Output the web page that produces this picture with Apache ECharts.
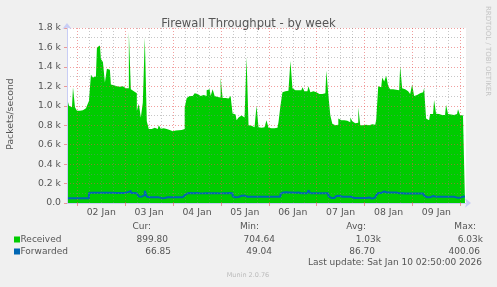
<!DOCTYPE html>
<html><head><meta charset="utf-8">
<script src="https://cdn.jsdelivr.net/npm/echarts@6/dist/echarts.min.js"></script>
<style>html,body{margin:0;padding:0;background:#f0f0f0}#c{width:497px;height:287px}</style>
</head><body><div id="c"></div>
<script>
// ---- data ----
const chartTitle = 'Firewall Throughput - by week';
const yAxisName = 'Packets/second';
const xMin = 18.833;              // hours after 01 Jan 00:00 (window start)
const xMax = 218.833;             // window end (10 Jan 02:50)
const firstSampleHour = 19.333;   // hourly samples
const dayLabels = ['02 Jan', '03 Jan', '04 Jan', '05 Jan', '06 Jan', '07 Jan', '08 Jan', '09 Jan'];
const dayLabelHours = [36, 60, 84, 108, 132, 156, 180, 204];
const midnightHours = [24, 48, 72, 96, 120, 144, 168, 192, 216];
const yMax = 1800;
const yStep = 200;

const received = [
  1040, 1000, 985, 1190, 985, 950, 950, 955, 960, 975,
  1000, 1050, 1320, 1290, 1300, 1600, 1620, 1480, 1450, 1240,
  1380, 1370, 1220, 1210, 1200, 1195, 1195, 1200, 1185, 1180,
  1180, 1760, 1170, 1150, 1130, 950, 1020, 880, 1030, 1700,
  840, 760, 760, 775, 765, 760, 800, 765, 770, 760,
  755, 750, 738, 735, 745, 748, 745, 750, 760, 980,
  1080, 1100, 1100, 1110, 1130, 1120, 1100, 1100, 1110, 1100,
  1160, 1170, 1100, 1170, 1100, 1090, 1085, 1290, 1080, 1080,
  1075, 1090, 1100, 920, 910, 850, 880, 900, 880, 870,
  1500, 800, 795, 780, 790, 1000, 780, 775, 780, 775,
  850, 775, 770, 770, 772, 775, 830, 1000, 1140, 1150,
  1155, 1150, 1460, 1180, 1160, 1160, 1175, 1160, 1190, 1150,
  1150, 1200, 1140, 1150, 1140, 1125, 1120, 1120, 1125, 1130,
  1360, 1110, 900, 815, 800, 805, 870, 850, 850, 830,
  845, 830, 880, 840, 820, 825, 985, 800, 800, 805,
  800, 800, 810, 815, 805, 860, 1200, 1190, 1290, 1250,
  1310, 1200, 1170, 1170, 1165, 1160, 1160, 1410, 1180, 1170,
  1150, 1150, 1120, 1220, 1100, 1110, 1130, 1130, 1140, 1180,
  870, 850, 915, 915, 1060, 918, 915, 905, 905, 905,
  1010, 915, 910, 905, 905, 915, 965, 905, 900, 900
];
const forwarded = [
  48, 48, 48, 48, 48, 48, 48, 48, 48, 48,
  48, 103, 105, 106, 107, 106, 105, 107, 105, 106,
  104, 105, 106, 105, 104, 103, 104, 103, 104, 105,
  110, 125, 103, 102, 100, 85, 67, 65, 80, 125,
  65, 60, 60, 58, 58, 58, 58, 50, 52, 58,
  60, 60, 60, 58, 58, 60, 60, 58, 60, 80,
  100, 102, 100, 101, 103, 100, 100, 99, 100, 101,
  100, 102, 100, 100, 101, 100, 99, 100, 101, 100,
  102, 103, 100, 70, 58, 62, 65, 75, 76, 72,
  64, 64, 63, 64, 64, 65, 64, 64, 63, 64,
  64, 64, 64, 64, 64, 64, 64, 95, 108, 110,
  125, 108, 107, 108, 106, 107, 105, 100, 100, 101,
  100, 130, 100, 100, 100, 100, 100, 100, 100, 100,
  100, 70, 52, 51, 51, 72, 75, 64, 64, 64,
  64, 64, 64, 52, 52, 52, 52, 52, 52, 52,
  56, 57, 45, 46, 57, 80, 103, 104, 118, 118,
  108, 108, 108, 108, 108, 108, 100, 100, 97, 97,
  97, 97, 97, 97, 97, 97, 97, 97, 97, 75,
  58, 58, 75, 72, 64, 64, 64, 64, 64, 64,
  64, 64, 64, 64, 64, 55, 55, 55, 64, 66
];
const seriesNames = ['Received', 'Forwarded'];
const seriesColors = ['#00cc00', '#0066b3'];
const statHeaders = ['Cur:', 'Min:', 'Avg:', 'Max:'];
const receivedStats = ['899.80', '704.64', '1.03k', '6.03k'];
const forwardedStats = ['66.85', '49.04', '86.70', '400.06'];
const lastUpdate = 'Last update: Sat Jan 10 02:50:00 2026';
const footerText = 'Munin 2.0.76';
const sideText = 'RRDTOOL / TOBI OETIKER';

// ---- chart ----
const FONT = '"DejaVu Sans", sans-serif';
const TXT = '#555';
const MAJOR = 'rgba(230,80,80,0.55)';
const MINOR = 'rgba(130,130,130,0.45)';
const AXISC = '#c8cdf5';

const minorHours = [];
for (let h = Math.ceil(xMin / 6) * 6; h <= xMax; h += 6) if (h % 24 !== 0) minorHours.push(h);

const toPairs = arr => arr.map((v, i) => [firstSampleHour + i, v]);

function txt(text, x, y, opts) {
  return {
    type: 'text', x: x, y: y, silent: true,
    style: Object.assign({ text: text, fontFamily: 'DejaVu Sans', fontSize: 9, fill: TXT, align: 'left', verticalAlign: 'middle' }, opts || {})
  };
}

const headerX = [151, 259, 366, 476];
const recvX = [168, 275, 381, 483];
const fwdX = [171, 272, 375, 480];
const graphics = [];
statHeaders.forEach((s, i) => graphics.push(txt(s, headerX[i], 227, { align: 'right' })));
graphics.push({ type: 'rect', shape: { x: 14, y: 236.5, width: 6, height: 6 }, style: { fill: seriesColors[0] }, silent: true });
graphics.push({ type: 'rect', shape: { x: 14, y: 248.5, width: 6, height: 6 }, style: { fill: seriesColors[1] }, silent: true });
graphics.push(txt(seriesNames[0], 20.5, 239.5));
graphics.push(txt(seriesNames[1], 20.5, 251.5));
receivedStats.forEach((s, i) => graphics.push(txt(s, recvX[i], 239.5, { align: 'right' })));
forwardedStats.forEach((s, i) => graphics.push(txt(s, fwdX[i], 251.5, { align: 'right' })));
graphics.push(txt(lastUpdate, 482, 263, { align: 'right' }));
graphics.push(txt(footerText, 248, 275, { align: 'center', fontSize: 6.5, fill: '#bbb' }));
graphics.push(Object.assign(txt(sideText, 0, 0, { align: 'center', fontSize: 7, fill: '#c4c4c4' }), { x: 488, y: 51, rotation: -Math.PI / 2 }));
graphics.push(Object.assign(txt(yAxisName, 0, 0, { align: 'center', fontSize: 9.3 }), { x: 11, y: 114, rotation: Math.PI / 2 }));

function gridLines(hours, color, z) {
  return {
    type: 'line', xAxisIndex: 0, data: [], z: z, silent: true, symbol: 'none',
    markLine: {
      silent: true, symbol: ['none', 'none'], animation: false,
      label: { show: false },
      lineStyle: { color: color, type: [1, 2], width: 1 },
      emphasis: { disabled: true },
      data: hours.map(h => ({ xAxis: h }))
    }
  };
}

const chart = echarts.init(document.getElementById('c'), null, { renderer: 'canvas' });
chart.setOption({
  animation: false,
  backgroundColor: '#f0f0f0',
  title: {
    text: chartTitle, left: 'center', top: 13,
    textStyle: { fontFamily: FONT, fontSize: 11.6, fontWeight: 'normal', color: TXT }
  },
  grid: { left: 67, top: 28, width: 399, height: 175, show: true, backgroundColor: '#ffffff', borderWidth: 0 },
  xAxis: {
    type: 'value', min: xMin, max: xMax, z: 5,
    axisLine: { show: true, onZero: false, symbol: ['none', 'arrow'], symbolSize: [7, 6], symbolOffset: [0, 5], lineStyle: { color: AXISC, width: 1 } },
    axisTick: { show: true, customValues: midnightHours, length: 3, inside: false, lineStyle: { color: MAJOR } },
    axisLabel: {
      customValues: dayLabelHours, margin: 5, fontFamily: FONT, fontSize: 9.3, color: TXT,
      formatter: v => dayLabels[dayLabelHours.indexOf(Math.round(v))] || ''
    },
    splitLine: { show: false }
  },
  yAxis: {
    type: 'value', min: 0, max: yMax, interval: yStep, z: 5,
    axisLine: { show: true, symbol: ['none', 'arrow'], symbolSize: [7, 6], symbolOffset: [0, 5], lineStyle: { color: AXISC, width: 1 } },
    axisTick: { show: true, length: 3, lineStyle: { color: MAJOR } },
    axisLabel: {
      margin: 6, fontFamily: FONT, fontSize: 9.3, color: TXT,
      formatter: v => v === 0 ? '0.0' : (v / 1000).toFixed(1) + ' k'
    },
    splitLine: { show: true, lineStyle: { color: MAJOR, type: [1, 2], width: 1 } },
    minorTick: { show: false, splitNumber: 2 },
    minorSplitLine: { show: true, lineStyle: { color: MINOR, type: [1, 2], width: 1 } }
  },
  series: [
    {
      name: seriesNames[0], type: 'line', xAxisIndex: 0, step: 'middle', symbol: 'none', z: 2,
      data: toPairs(received),
      itemStyle: { color: seriesColors[0] },
      lineStyle: { width: 0, color: seriesColors[0] },
      areaStyle: { color: seriesColors[0], opacity: 1 }
    },
    {
      name: seriesNames[1], type: 'line', xAxisIndex: 0, step: 'middle', symbol: 'none', z: 3,
      data: toPairs(forwarded),
      itemStyle: { color: seriesColors[1] },
      lineStyle: { width: 2, color: seriesColors[1] }
    },
    gridLines(minorHours, MINOR, 4),
    gridLines(midnightHours, MAJOR, 4)
  ],
  graphic: graphics
});
</script>
</body></html>
